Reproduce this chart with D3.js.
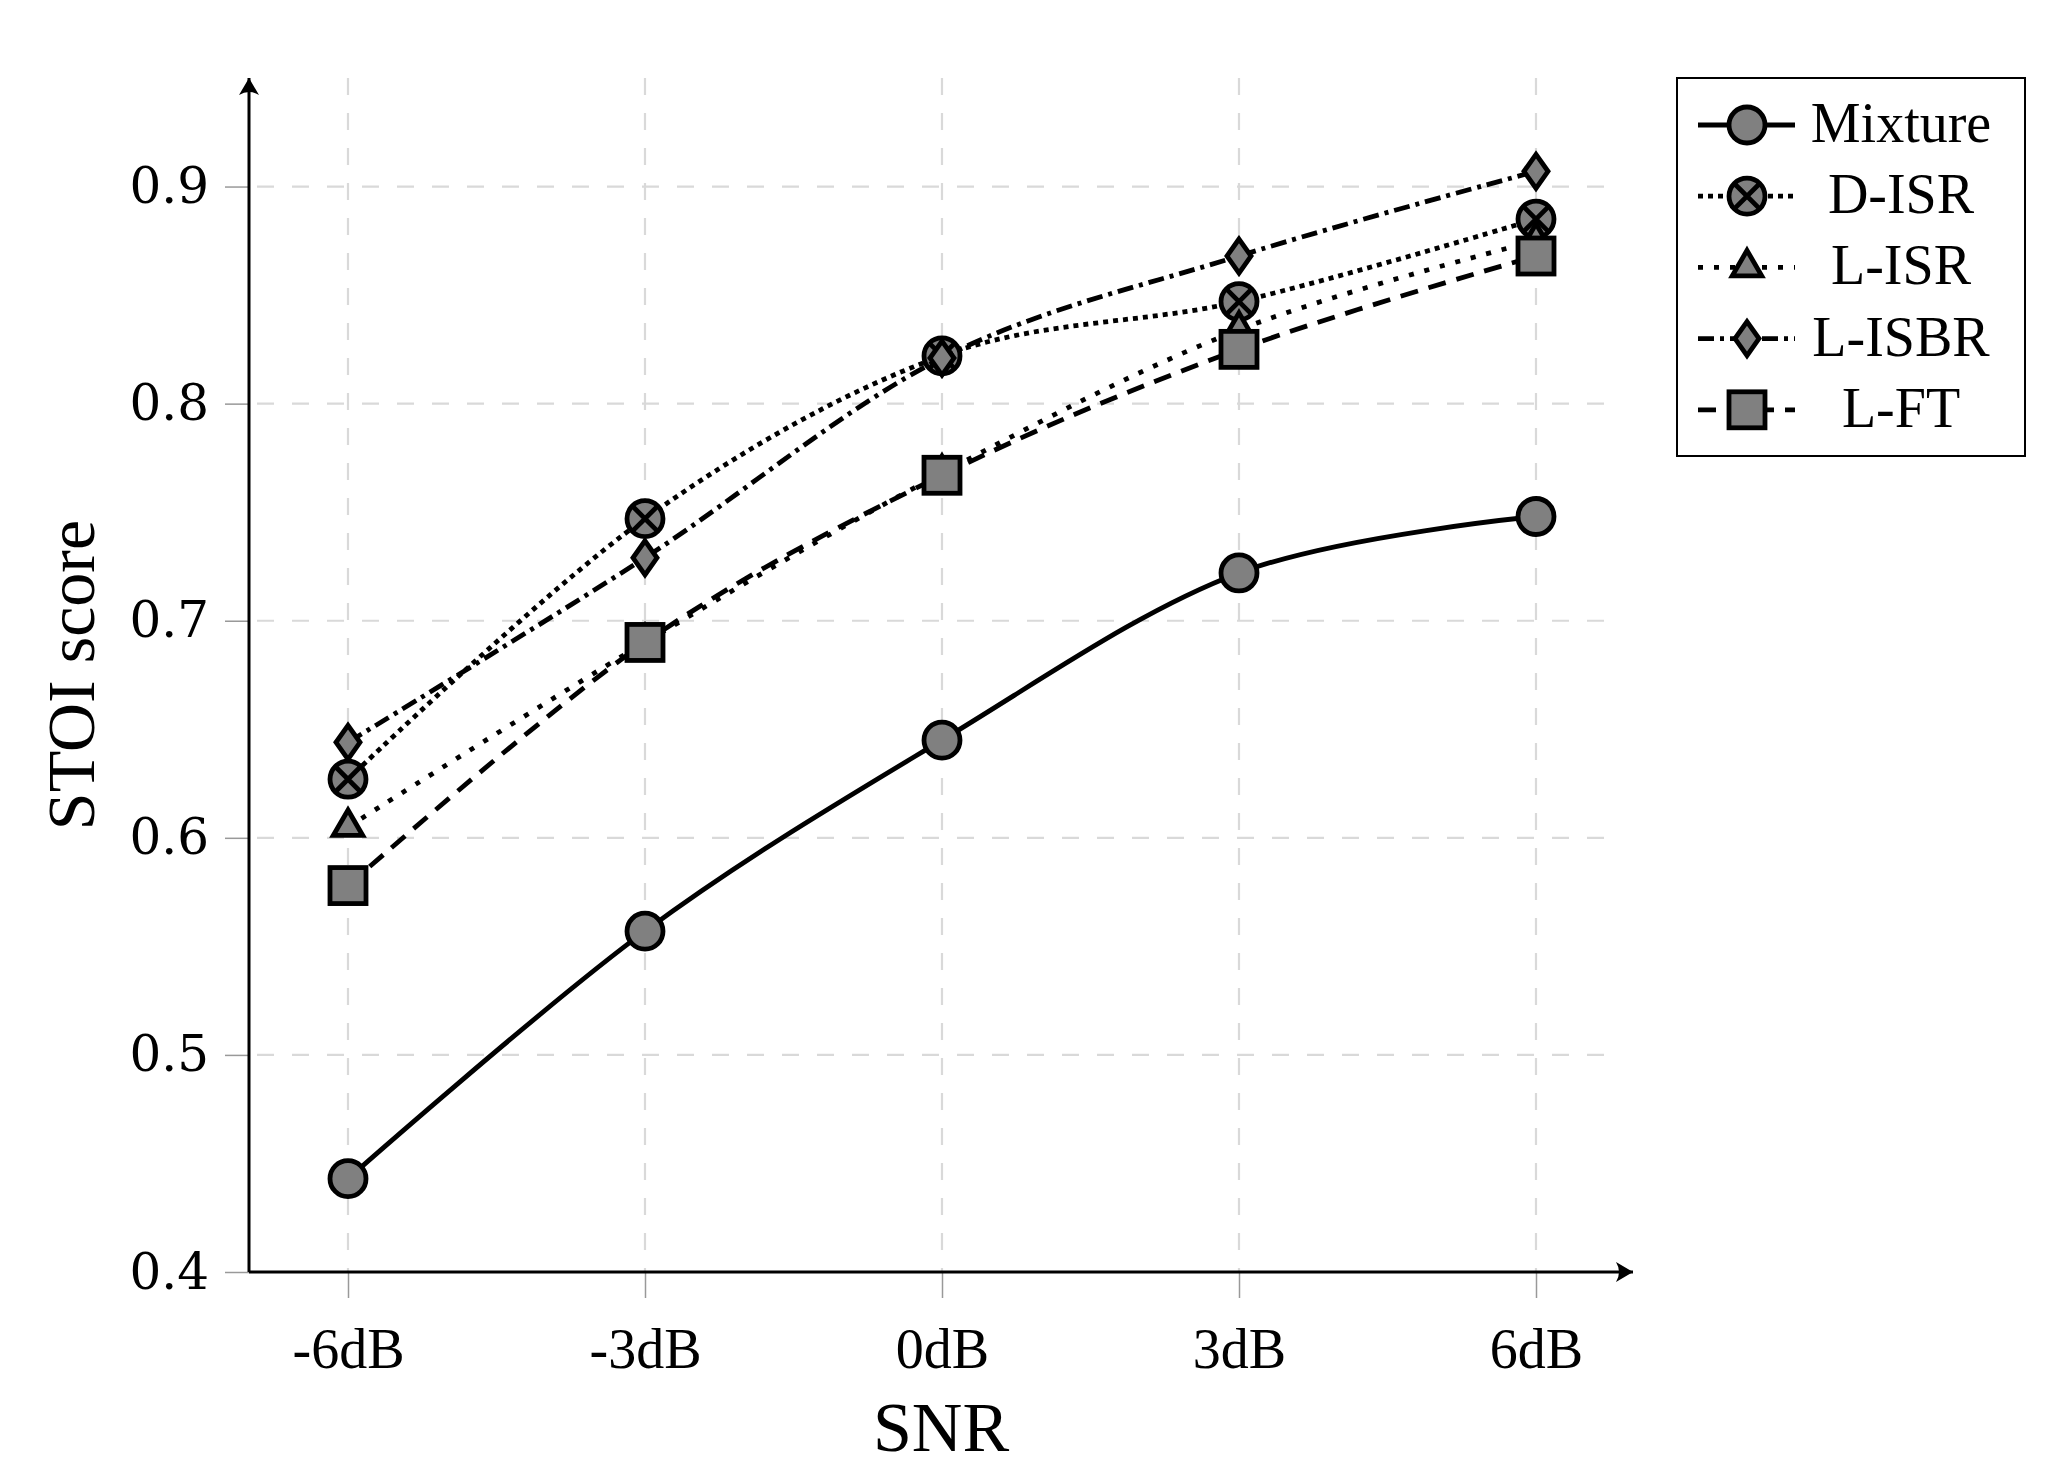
<!DOCTYPE html>
<html>
<head>
<meta charset="utf-8">
<script src="https://cdn.jsdelivr.net/npm/d3@7"></script>
<style>
  body { margin: 0; background: #fff; }
  svg { display: block; }
</style>
</head>
<body>
<div id="chart"></div>
<script>
// data
var snr = [-6, -3, 0, 3, 6];
var snrLabels = ['-6dB', '-3dB', '0dB', '3dB', '6dB'];
var yTicks = [0.4, 0.5, 0.6, 0.7, 0.8, 0.9];

var mixture = [0.443, 0.557, 0.645, 0.722, 0.748];
var dIsr = [0.627, 0.747, 0.822, 0.847, 0.885];
var lIsr = [0.605, 0.690, 0.768, 0.834, 0.875];
var lIsbr = [0.644, 0.729, 0.821, 0.868, 0.907];
var lFt = [0.578, 0.690, 0.767, 0.825, 0.868];

var seriesNames = ['Mixture', 'D-ISR', 'L-ISR', 'L-ISBR', 'L-FT'];
var seriesValues = [mixture, dIsr, lIsr, lIsbr, lFt];

// style per series: dash pattern + marker
var styles = [
  { dash: null, marker: 'circle' },
  { dash: '5,5', marker: 'otimes' },
  { dash: '5,11', marker: 'triangle' },
  { dash: '16,6,4,6', marker: 'diamond' },
  { dash: '18,11', marker: 'square' }
];

var W = 2060, H = 1484;
var x0 = 249, x1 = 1635, yBottom = 1272, yTop = 78;
var lw = 4.8;

var svg = d3.select('#chart').append('svg')
  .attr('width', W)
  .attr('height', H);

var x = d3.scaleLinear().domain([-7, 7]).range([x0, x1]);
var y = d3.scaleLinear().domain([0.4, 0.95]).range([yBottom, yTop]);

// arrow heads
var defs = svg.append('defs');
defs.append('marker')
  .attr('id', 'arrow')
  .attr('viewBox', '-18 -11 20 22')
  .attr('markerUnits', 'userSpaceOnUse')
  .attr('markerWidth', 20)
  .attr('markerHeight', 22)
  .attr('refX', 0)
  .attr('refY', 0)
  .attr('orient', 'auto')
  .append('path')
  .attr('d', 'M0,0 L-17,-10 Q-11,0 -17,10 Z')
  .attr('fill', '#000');

//-------------------------------
// grid
var grid = svg.append('g').attr('class', 'grid');

grid.selectAll('.vgrid')
  .data(snr)
  .enter()
  .append('line')
  .attr('x1', function (d) { return x(d); })
  .attr('x2', function (d) { return x(d); })
  .attr('y1', y(0.95))
  .attr('y2', yBottom)
  .attr('stroke', '#d9d9d9')
  .attr('stroke-width', 2.2)
  .attr('stroke-dasharray', '17,18');

grid.selectAll('.hgrid')
  .data(yTicks.slice(1))
  .enter()
  .append('line')
  .attr('x1', x0)
  .attr('x2', 1620)
  .attr('y1', function (d) { return y(d); })
  .attr('y2', function (d) { return y(d); })
  .attr('stroke', '#d9d9d9')
  .attr('stroke-width', 2.2)
  .attr('stroke-dasharray', '17,18')
  .attr('stroke-dashoffset', -8);

//-------------------------------
// axes
var xAxis = d3.axisBottom(x)
  .tickValues(snr)
  .tickFormat(function (d, i) { return snrLabels[i]; })
  .tickSize(26)
  .tickPadding(30);

var gx = svg.append('g')
  .attr('transform', 'translate(0,' + yBottom + ')')
  .call(xAxis);
gx.select('.domain').remove();
gx.selectAll('.tick line').attr('stroke', '#999').attr('stroke-width', 1.5);
gx.selectAll('.tick text')
  .attr('fill', '#000')
  .style('font-family', '"Liberation Serif", serif')
  .style('font-size', '56px');

var yAxis = d3.axisLeft(y)
  .tickValues(yTicks)
  .tickFormat(d3.format('.1f'))
  .tickSize(24)
  .tickPadding(16);

var gy = svg.append('g')
  .attr('transform', 'translate(' + x0 + ',0)')
  .call(yAxis);
gy.select('.domain').remove();
gy.selectAll('.tick line').attr('stroke', '#999').attr('stroke-width', 1.5);
gy.selectAll('.tick text')
  .attr('fill', '#000')
  .style('font-family', '"DejaVu Serif", serif')
  .style('font-size', '50px');

// axis lines with arrows
svg.append('line')
  .attr('x1', x0).attr('y1', yBottom)
  .attr('x2', 1633).attr('y2', yBottom)
  .attr('stroke', '#000').attr('stroke-width', 3)
  .attr('marker-end', 'url(#arrow)');
svg.append('line')
  .attr('x1', x0).attr('y1', yBottom)
  .attr('x2', x0).attr('y2', yTop)
  .attr('stroke', '#000').attr('stroke-width', 3)
  .attr('marker-end', 'url(#arrow)');

// axis titles
svg.append('text')
  .attr('x', (x0 + 1633) / 2)
  .attr('y', 1451)
  .attr('text-anchor', 'middle')
  .style('font-family', '"Liberation Serif", serif')
  .style('font-size', '70px')
  .text('SNR');

svg.append('text')
  .attr('transform', 'translate(94,' + (yBottom + yTop) / 2 + ') rotate(-90)')
  .attr('text-anchor', 'middle')
  .style('font-family', '"Liberation Serif", serif')
  .style('font-size', '68px')
  .text('STOI score');

//-------------------------------
// markers
function drawMarker(g, type, cx, cy) {
  var m = g.append('g')
    .attr('transform', 'translate(' + cx + ',' + cy + ')');
  var common = function (sel) {
    sel.attr('fill', '#808080')
      .attr('stroke', '#000')
      .attr('stroke-width', lw)
      .attr('stroke-linejoin', 'miter');
  };
  if (type === 'circle') {
    m.append('circle').attr('r', 18).call(common);
  } else if (type === 'otimes') {
    m.append('circle').attr('r', 18).call(common);
    var k = 18 * Math.SQRT1_2;
    m.append('path')
      .attr('d', 'M' + (-k) + ',' + (-k) + 'L' + k + ',' + k +
        'M' + (-k) + ',' + k + 'L' + k + ',' + (-k))
      .attr('stroke', '#000')
      .attr('stroke-width', lw);
  } else if (type === 'triangle') {
    var r = 17;
    m.append('path')
      .attr('d', 'M0,' + (-r) + 'L' + (r * 0.866) + ',' + (r * 0.5) +
        'L' + (-r * 0.866) + ',' + (r * 0.5) + 'Z')
      .call(common);
  } else if (type === 'diamond') {
    m.append('path')
      .attr('d', 'M0,-17L12,0L0,17L-12,0Z')
      .call(common);
  } else if (type === 'square') {
    m.append('rect')
      .attr('x', -18).attr('y', -18)
      .attr('width', 36).attr('height', 36)
      .call(common);
  }
}

//-------------------------------
// lines
var line = d3.line()
  .curve(d3.curveCardinal.tension(0))
  .x(function (d) { return x(d.x); })
  .y(function (d) { return y(d.y); });

seriesValues.forEach(function (vals, i) {
  var pts = vals.map(function (v, j) { return { x: snr[j], y: v }; });
  var g = svg.append('g').attr('class', 'series');
  g.append('path')
    .attr('d', line(pts))
    .attr('fill', 'none')
    .attr('stroke', '#000')
    .attr('stroke-width', lw)
    .attr('stroke-dasharray', styles[i].dash);
  pts.forEach(function (p) {
    drawMarker(g, styles[i].marker, x(p.x), y(p.y));
  });
});

//-------------------------------
// legend
var legend = svg.append('g').attr('class', 'legend');
legend.append('rect')
  .attr('x', 1677).attr('y', 78)
  .attr('width', 348).attr('height', 378)
  .attr('fill', '#fff')
  .attr('stroke', '#000')
  .attr('stroke-width', 2);

seriesNames.forEach(function (name, i) {
  var cy = 125 + i * 71.2;
  legend.append('line')
    .attr('x1', 1698).attr('x2', 1795)
    .attr('y1', cy).attr('y2', cy)
    .attr('stroke', '#000')
    .attr('stroke-width', lw)
    .attr('stroke-dasharray', styles[i].dash);
  drawMarker(legend, styles[i].marker, 1747, cy);
  legend.append('text')
    .attr('x', 1901)
    .attr('y', cy + 17)
    .attr('text-anchor', 'middle')
    .style('font-family', '"Liberation Serif", serif')
    .style('font-size', '56px')
    .text(name);
});
</script>
</body>
</html>
